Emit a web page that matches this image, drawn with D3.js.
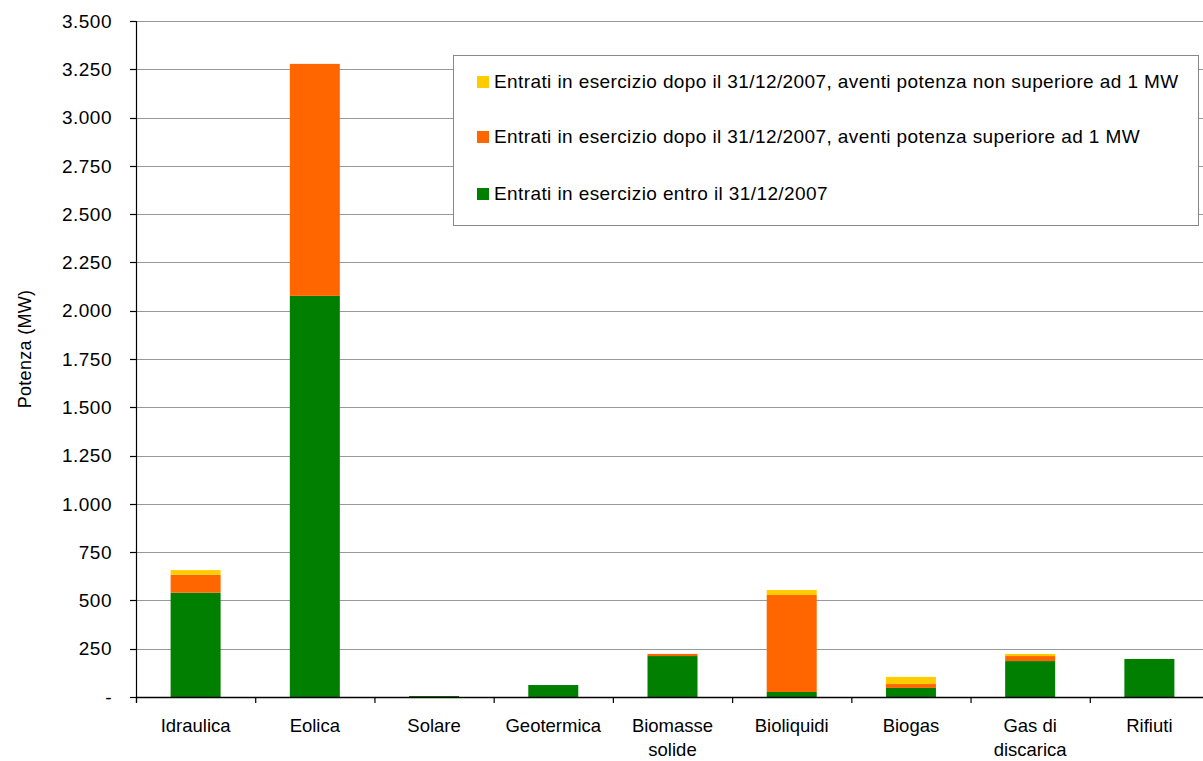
<!DOCTYPE html>
<html><head><meta charset="utf-8">
<script src="https://cdn.jsdelivr.net/npm/d3@7"></script>
<style>body{margin:0;background:#fff;} text{font-family:"Liberation Sans",Arial,sans-serif;fill:#000;}</style>
</head><body>
<svg id="c" width="1203" height="761"></svg>
<script>
const categories = [["Idraulica"],["Eolica"],["Solare"],["Geotermica"],["Biomasse","solide"],["Bioliquidi"],["Biogas"],["Gas di","discarica"],["Rifiuti"]];
const seriesNames = [
  "Entrati in esercizio entro il 31/12/2007",
  "Entrati in esercizio dopo il 31/12/2007, aventi potenza superiore ad 1 MW",
  "Entrati in esercizio dopo il 31/12/2007, aventi potenza non superiore ad 1 MW"
];
const seriesColors = ["#007f00","#ff6600","#ffcc00"];
const entro2007 = [540, 2077, 5, 62, 212, 26, 47, 186, 197];
const dopoOltre1MW = [93, 1201, 0, 0, 11, 502, 20, 26, 0];
const dopoFino1MW = [24, 0, 0, 0, 0, 26, 37, 11, 0];
const yTicks = [0,250,500,750,1000,1250,1500,1750,2000,2250,2500,2750,3000,3250,3500];
const yTickLabels = ["-","250","500","750","1.000","1.250","1.500","1.750","2.000","2.250","2.500","2.750","3.000","3.250","3.500"];
const yTitle = "Potenza (MW)";

const svg = d3.select("#c");
const m = {l:136, r:1209, t:21, b:697};
const names = categories.map(c=>c.join(" "));
const x = d3.scaleBand().domain(names).range([m.l, m.r]).paddingInner(0).paddingOuter(0);
const y = d3.scaleLinear().domain([0,3500]).range([m.b, m.t]);

// gridlines
svg.append("g").selectAll("line").data(yTicks.slice(1)).join("line")
  .attr("x1", m.l).attr("x2", 1203).attr("y1", d=>Math.round(y(d))+0.5).attr("y2", d=>Math.round(y(d))+0.5)
  .attr("stroke","#999").attr("stroke-width",1.2);

// stacked bars
const data = names.map((n,i)=>({cat:n, s0:entro2007[i], s1:dopoOltre1MW[i], s2:dopoFino1MW[i]}));
const stack = d3.stack().keys(["s0","s1","s2"])(data);
const bw = 50;
svg.append("g").selectAll("g").data(stack).join("g").attr("fill",(d,i)=>seriesColors[i])
  .selectAll("rect").data(d=>d).join("rect")
  .attr("x", d=>x(d.data.cat)+x.bandwidth()/2-bw/2).attr("width", bw)
  .attr("y", d=>y(d[1])).attr("height", d=>Math.max(0,y(d[0])-y(d[1])));

// y axis
const ya = svg.append("g");
ya.append("line").attr("x1",m.l+0.5).attr("x2",m.l+0.5).attr("y1",m.t).attr("y2",m.b+6).attr("stroke","#000").attr("stroke-width",1.2);
ya.selectAll("line.t").data(yTicks).join("line").attr("class","t")
  .attr("x1",m.l-6).attr("x2",m.l).attr("y1",d=>Math.round(y(d))+0.5).attr("y2",d=>Math.round(y(d))+0.5).attr("stroke","#000").attr("stroke-width",1.2);
ya.selectAll("text").data(yTicks).join("text")
  .attr("x",112).attr("y",d=>y(d)).attr("dy","0.35em").attr("text-anchor","end").attr("font-size",19).attr("letter-spacing","0.5px")
  .text((d,i)=>yTickLabels[i]);
svg.append("text").attr("transform",`translate(31,349) rotate(-90)`).attr("text-anchor","middle")
  .attr("font-size",18).attr("letter-spacing","0.3px").text(yTitle);

// x axis
const xa = svg.append("g");
xa.append("line").attr("x1",m.l).attr("x2",1203).attr("y1",m.b+0.5).attr("y2",m.b+0.5).attr("stroke","#000").attr("stroke-width",1.5);
xa.selectAll("line.t").data(names).join("line").attr("class","t")
  .attr("x1",d=>x(d)+0.5).attr("x2",d=>x(d)+0.5).attr("y1",m.b).attr("y2",m.b+6).attr("stroke","#000").attr("stroke-width",1.2);
xa.selectAll("text").data(categories).join("text")
  .attr("text-anchor","middle").attr("font-size",18.5)
  .attr("x",(d,i)=>x(names[i])+x.bandwidth()/2).attr("y",732)
  .each(function(d){
    d3.select(this).selectAll("tspan").data(d).join("tspan")
      .attr("x", d3.select(this).attr("x")).attr("dy",(t,j)=>j?24:0).text(t=>t);
  });

// legend
const lg = svg.append("g");
lg.append("rect").attr("x",453.5).attr("y",55.5).attr("width",745).attr("height",170).attr("fill","#fff").attr("stroke","#888").attr("stroke-width",1);
const legOrder = [2,1,0];
const lrow = [81,136,193];
legOrder.forEach((si,k)=>{
  lg.append("rect").attr("x",477).attr("y",lrow[k]-5).attr("width",12).attr("height",12).attr("fill",seriesColors[si]);
  lg.append("text").attr("x",494).attr("y",lrow[k]).attr("dy","0.35em").attr("font-size",19).attr("letter-spacing","0.4px").text(seriesNames[si]);
});
</script>
</body></html>
